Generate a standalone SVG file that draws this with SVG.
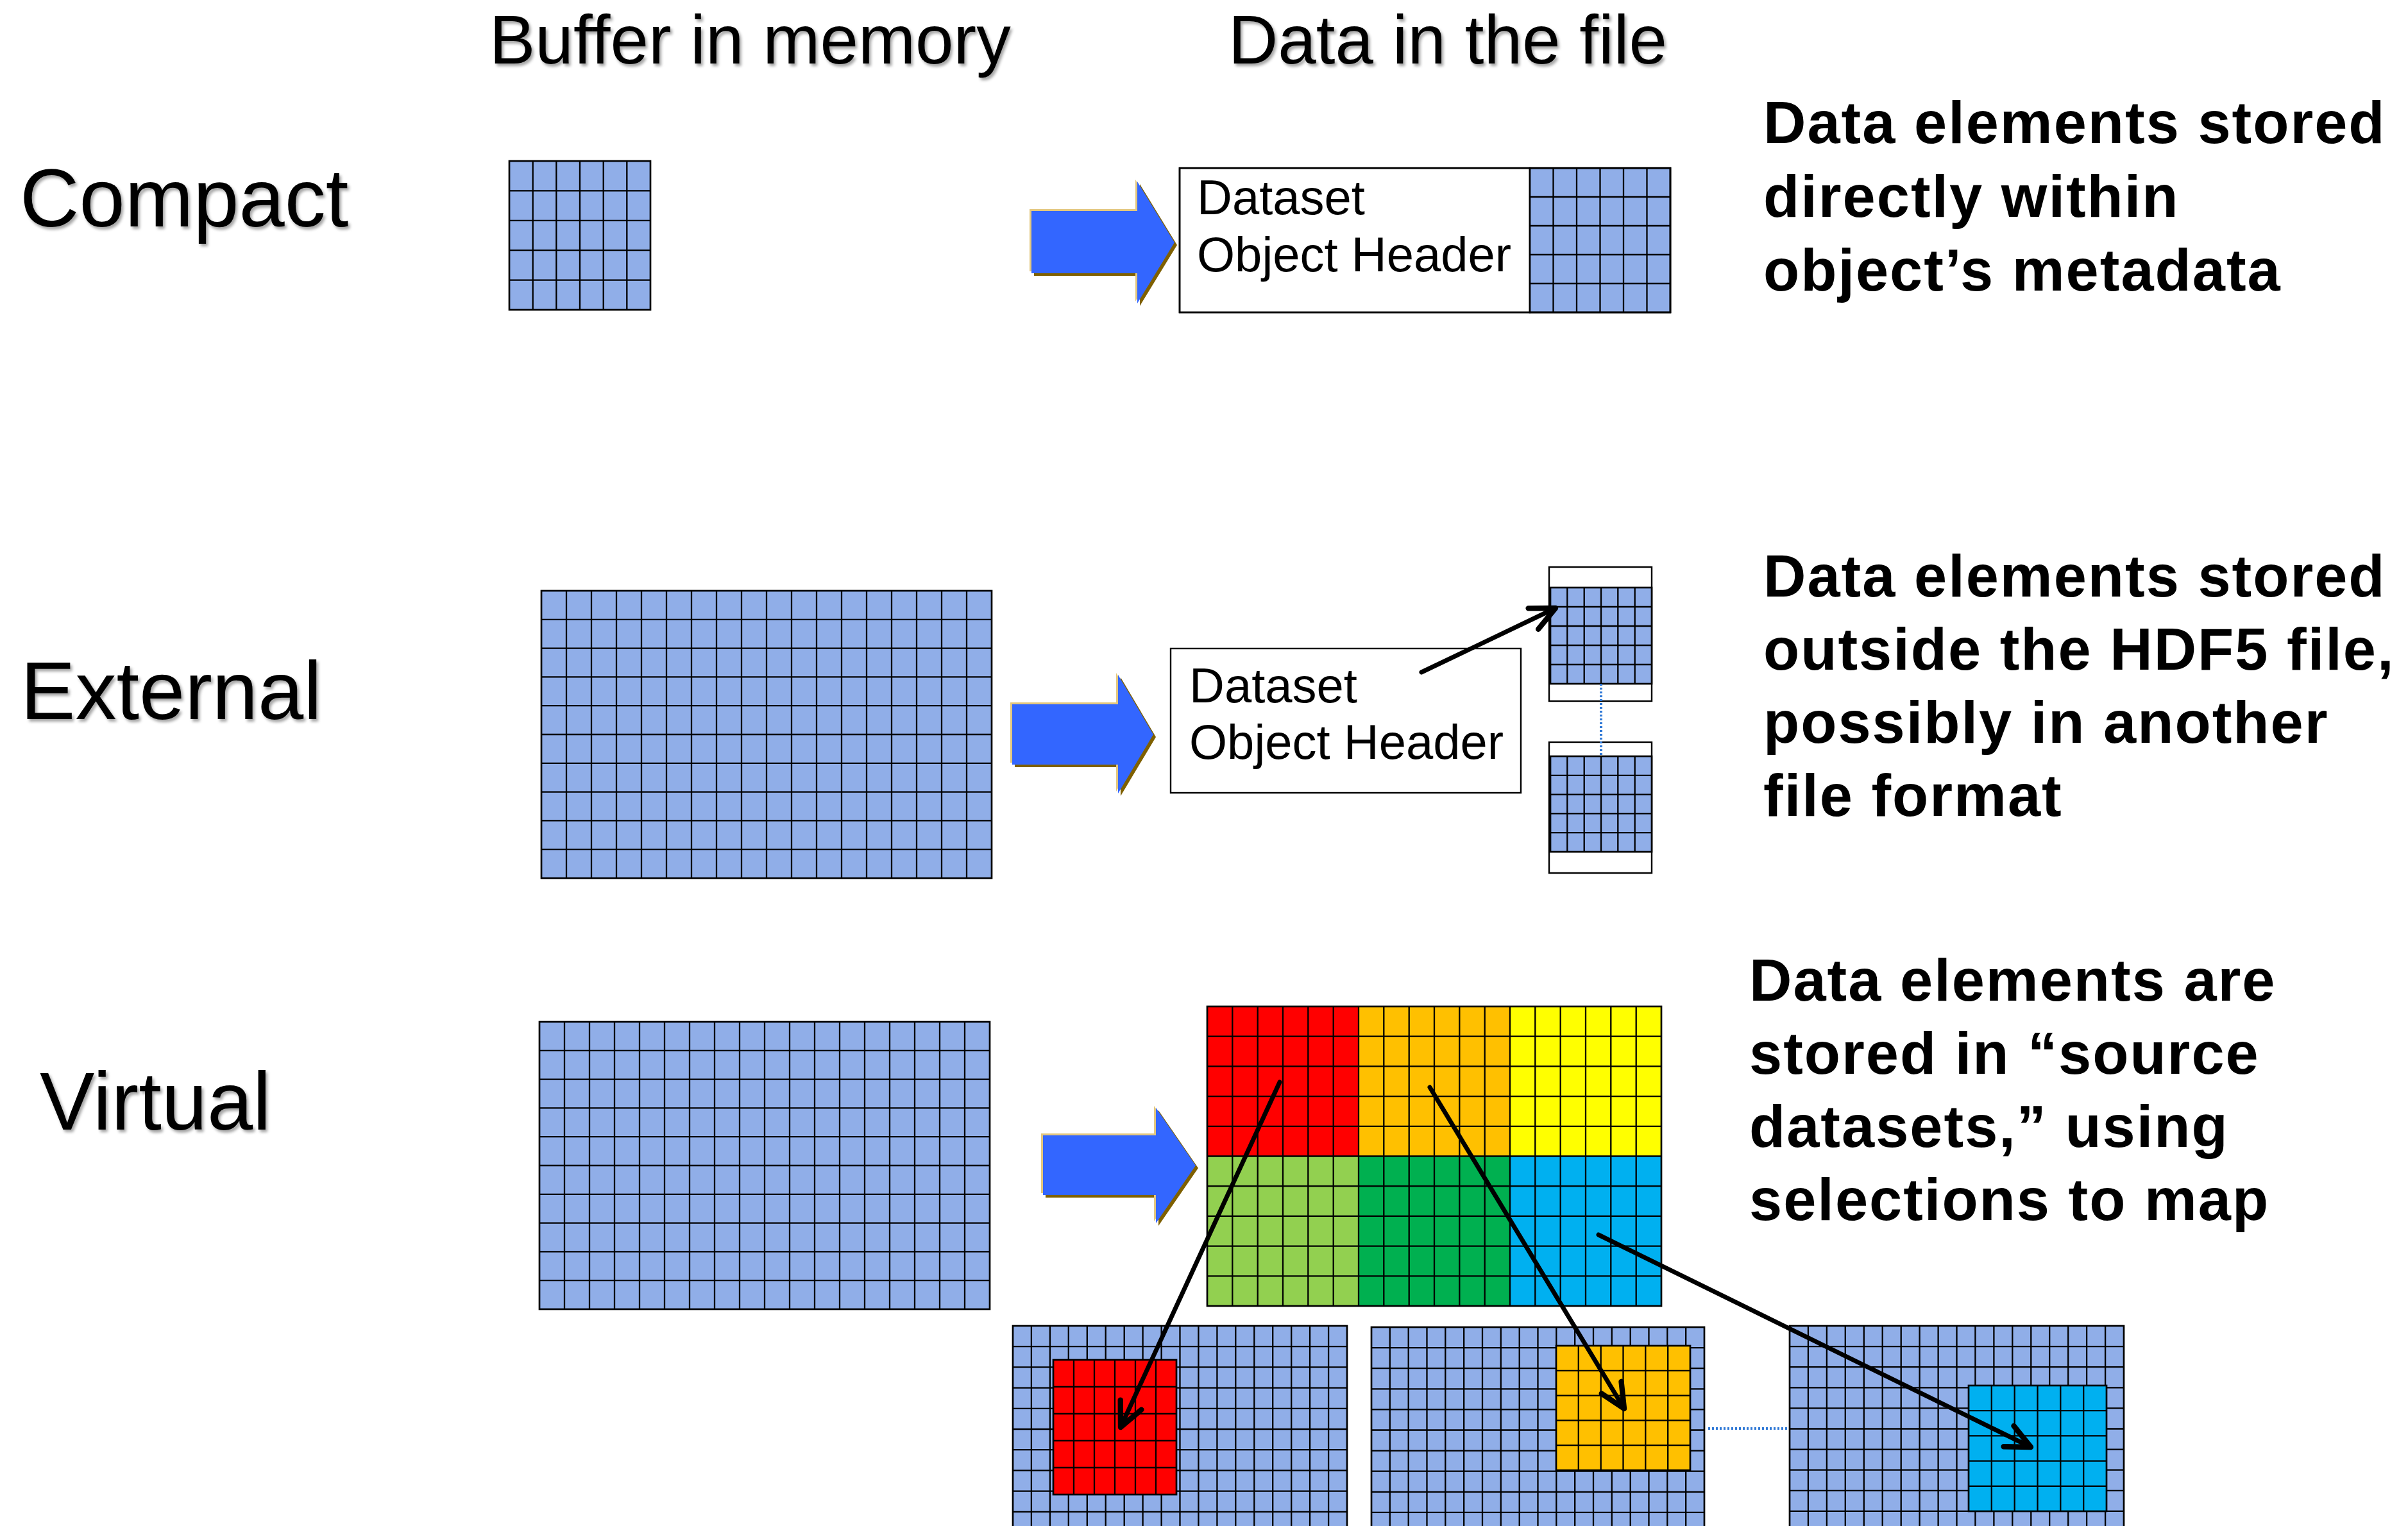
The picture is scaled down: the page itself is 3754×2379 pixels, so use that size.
<svg xmlns="http://www.w3.org/2000/svg" xmlns:xlink="http://www.w3.org/1999/xlink" width="3754" height="2379" viewBox="0 0 3754 2379">
  <style>
    .title { font-family: "Liberation Sans", Arial, sans-serif; font-size: 107px; fill: #000; }
    .rowlabel { font-family: "Liberation Sans", Arial, sans-serif; font-size: 128px; fill: #000; }
    .hdr { font-family: "Liberation Sans", Arial, sans-serif; font-size: 76px; fill: #000; }
    .note { font-family: "Liberation Sans", Arial, sans-serif; font-size: 92px; font-weight: bold; letter-spacing: 2px; fill: #000; }
    .cell { fill: #90AEE8; }
    .gl { fill: none; stroke: #000; stroke-width: 2.3; }
    .frame { fill: none; stroke: #000; stroke-width: 2.7; }
    .box { fill: #fff; stroke: #000; stroke-width: 2.4; }
    .red { fill: #FF0000; }
    .orange { fill: #FFC000; }
    .yellow { fill: #FFFF00; }
    .lgreen { fill: #92D050; }
    .green { fill: #00B050; }
    .cyan { fill: #00B0F0; }
    .link { fill: none; stroke: #000; stroke-width: 7; stroke-linecap: round; }
    .dots { fill: none; stroke: #2F78D6; stroke-width: 4; stroke-dasharray: 3 3; }
    .bevel-hi { fill: #E3C77F; }
    .bevel-lo { fill: #7F6000; }
    .blockarrow { fill: #3366FF; }
  </style>
  <defs>
    <filter id="soft-shadow" x="-5%" y="-10%" width="115%" height="130%">
      <feDropShadow dx="3" dy="4" stdDeviation="2" flood-color="#000" flood-opacity="0.35"/>
    </filter>
    <marker id="open-head" markerUnits="userSpaceOnUse" orient="auto" refX="0" refY="0" markerWidth="60" markerHeight="60" viewBox="-40 -25 50 50" overflow="visible">
      <path d="M-32,-15 L0,0 L-32,15" fill="none" stroke="#000" stroke-width="7" stroke-linecap="round" stroke-linejoin="round"/>
    </marker>
    <polygon id="arrow-compact" points="1608,329 1773,329 1773,283 1831,378 1773,473 1773,426 1608,426"/>
    <polygon id="arrow-external" points="1578,1098 1743,1098 1743,1052 1798,1145 1743,1237 1743,1192 1578,1192"/>
    <polygon id="arrow-virtual" points="1626,1770 1802,1770 1802,1727 1864,1817 1802,1907 1802,1863 1626,1863"/>
  </defs>

  <rect x="0" y="0" width="3754" height="2379" fill="#fff"/>

  <!-- column headings -->
  <g id="heading-buffer" filter="url(#soft-shadow)">
    <text class="title" x="763" y="99">Buffer in memory</text>
  </g>
  <g id="heading-file" filter="url(#soft-shadow)">
    <text class="title" x="1915" y="99">Data in the file</text>
  </g>

  <!-- row labels -->
  <g id="label-compact" filter="url(#soft-shadow)">
    <text class="rowlabel" x="31" y="353">Compact</text>
  </g>
  <g id="label-external" filter="url(#soft-shadow)">
    <text class="rowlabel" x="32" y="1121">External</text>
  </g>
  <g id="label-virtual" filter="url(#soft-shadow)">
    <text class="rowlabel" x="62" y="1761">Virtual</text>
  </g>

  <!-- Compact: buffer in memory -->
  <g id="compact-buffer">
    <rect class="cell" x="794" y="251" width="220" height="232"/>
    <path class="gl" d="M830.7 251V483M867.3 251V483M904 251V483M940.7 251V483M977.3 251V483M794 297.4H1014M794 343.8H1014M794 390.2H1014M794 436.6H1014"/>
    <rect class="frame" x="794" y="251" width="220" height="232"/>
  </g>

  <!-- Compact: header with data stored inline -->
  <g id="compact-file">
    <rect class="box" x="1839" y="262" width="546" height="225"/>
    <rect class="cell" x="2385" y="262" width="219" height="225"/>
    <path class="gl" d="M2421.5 262V487M2458 262V487M2494.5 262V487M2531 262V487M2567.5 262V487M2385 307H2604M2385 352H2604M2385 397H2604M2385 442H2604"/>
    <rect class="frame" x="1839" y="262" width="765" height="225"/>
    <rect class="frame" x="2385" y="262" width="219" height="225"/>
    <text class="hdr" x="1866" y="334">Dataset</text>
    <text class="hdr" x="1866" y="423">Object Header</text>
  </g>

  <g id="note-compact">
    <text class="note" x="2749" y="223">Data elements stored</text>
    <text class="note" x="2749" y="338">directly within</text>
    <text class="note" x="2749" y="453">object’s metadata</text>
  </g>

  <!-- External: buffer in memory -->
  <g id="external-buffer">
    <rect class="cell" x="844" y="921" width="702" height="448"/>
    <path class="gl" d="M883 921V1369M922 921V1369M961 921V1369M1000 921V1369M1039 921V1369M1078 921V1369M1117 921V1369M1156 921V1369M1195 921V1369M1234 921V1369M1273 921V1369M1312 921V1369M1351 921V1369M1390 921V1369M1429 921V1369M1468 921V1369M1507 921V1369M844 965.8H1546M844 1010.6H1546M844 1055.4H1546M844 1100.2H1546M844 1145H1546M844 1189.8H1546M844 1234.6H1546M844 1279.4H1546M844 1324.2H1546"/>
    <rect class="frame" x="844" y="921" width="702" height="448"/>
  </g>

  <!-- External: header in the file -->
  <g id="external-header">
    <rect class="box" x="1825" y="1011" width="546" height="225"/>
    <text class="hdr" x="1854" y="1095">Dataset</text>
    <text class="hdr" x="1854" y="1183">Object Header</text>
  </g>

  <!-- External: data segments held elsewhere -->
  <g id="external-segment-1">
    <rect class="box" x="2415" y="884" width="160" height="209"/>
    <rect class="cell" x="2417" y="916" width="158" height="150"/>
    <path class="gl" d="M2443.3 916V1066M2469.7 916V1066M2496 916V1066M2522.3 916V1066M2548.7 916V1066M2417 946H2575M2417 976H2575M2417 1006H2575M2417 1036H2575"/>
    <rect class="frame" x="2417" y="916" width="158" height="150"/>
  </g>
  <g id="external-segment-2">
    <rect class="box" x="2415" y="1157" width="160" height="204"/>
    <rect class="cell" x="2417" y="1179" width="158" height="149"/>
    <path class="gl" d="M2443.3 1179V1328M2469.7 1179V1328M2496 1179V1328M2522.3 1179V1328M2548.7 1179V1328M2417 1208.8H2575M2417 1238.6H2575M2417 1268.4H2575M2417 1298.2H2575"/>
    <rect class="frame" x="2417" y="1179" width="158" height="149"/>
  </g>

  <g id="note-external">
    <text class="note" x="2749" y="930">Data elements stored</text>
    <text class="note" x="2749" y="1044">outside the HDF5 file,</text>
    <text class="note" x="2749" y="1158">possibly in another</text>
    <text class="note" x="2749" y="1272">file format</text>
  </g>

  <!-- Virtual: buffer in memory -->
  <g id="virtual-buffer">
    <rect class="cell" x="841" y="1593" width="702" height="448"/>
    <path class="gl" d="M880 1593V2041M919 1593V2041M958 1593V2041M997 1593V2041M1036 1593V2041M1075 1593V2041M1114 1593V2041M1153 1593V2041M1192 1593V2041M1231 1593V2041M1270 1593V2041M1309 1593V2041M1348 1593V2041M1387 1593V2041M1426 1593V2041M1465 1593V2041M1504 1593V2041M841 1637.8H1543M841 1682.6H1543M841 1727.4H1543M841 1772.2H1543M841 1817H1543M841 1861.8H1543M841 1906.6H1543M841 1951.4H1543M841 1996.2H1543"/>
    <rect class="frame" x="841" y="1593" width="702" height="448"/>
  </g>

  <!-- Virtual: dataset assembled from six mapped regions -->
  <g id="virtual-dataset">
    <rect class="red" x="1882" y="1569" width="236" height="233.5"/>
    <rect class="orange" x="2118" y="1569" width="236" height="233.5"/>
    <rect class="yellow" x="2354" y="1569" width="236" height="233.5"/>
    <rect class="lgreen" x="1882" y="1802.5" width="236" height="233.5"/>
    <rect class="green" x="2118" y="1802.5" width="236" height="233.5"/>
    <rect class="cyan" x="2354" y="1802.5" width="236" height="233.5"/>
    <path class="gl" d="M1921.3 1569V2036M1960.7 1569V2036M2000 1569V2036M2039.3 1569V2036M2078.7 1569V2036M2118 1569V2036M2157.3 1569V2036M2196.7 1569V2036M2236 1569V2036M2275.3 1569V2036M2314.7 1569V2036M2354 1569V2036M2393.3 1569V2036M2432.7 1569V2036M2472 1569V2036M2511.3 1569V2036M2550.7 1569V2036M1882 1615.7H2590M1882 1662.4H2590M1882 1709.1H2590M1882 1755.8H2590M1882 1802.5H2590M1882 1849.2H2590M1882 1895.9H2590M1882 1942.6H2590M1882 1989.3H2590"/>
    <rect class="frame" x="1882" y="1569" width="708" height="467"/>
  </g>

  <!-- Virtual: source datasets with their selections -->
  <g id="source-1">
    <rect class="cell" x="1579" y="2067" width="521" height="340"/>
    <path class="gl" d="M1607.9 2067V2407M1636.9 2067V2407M1665.8 2067V2407M1694.8 2067V2407M1723.7 2067V2407M1752.7 2067V2407M1781.6 2067V2407M1810.6 2067V2407M1839.5 2067V2407M1868.4 2067V2407M1897.4 2067V2407M1926.3 2067V2407M1955.3 2067V2407M1984.2 2067V2407M2013.2 2067V2407M2042.1 2067V2407M2071.1 2067V2407M1579 2099.2H2100M1579 2131.4H2100M1579 2163.6H2100M1579 2195.8H2100M1579 2228H2100M1579 2260.2H2100M1579 2292.4H2100M1579 2324.6H2100M1579 2356.8H2100M1579 2389H2100"/>
    <rect class="frame" x="1579" y="2067" width="521" height="340"/>
    <rect class="red" x="1642" y="2120" width="192" height="210"/>
    <path class="gl" d="M1674 2120V2330M1706 2120V2330M1738 2120V2330M1770 2120V2330M1802 2120V2330M1642 2162H1834M1642 2204H1834M1642 2246H1834M1642 2288H1834"/>
    <rect class="frame" x="1642" y="2120" width="192" height="210"/>
  </g>
  <g id="source-2">
    <rect class="cell" x="2138" y="2069" width="519" height="340"/>
    <path class="gl" d="M2166.8 2069V2409M2195.7 2069V2409M2224.5 2069V2409M2253.3 2069V2409M2282.2 2069V2409M2311 2069V2409M2339.8 2069V2409M2368.7 2069V2409M2397.5 2069V2409M2426.3 2069V2409M2455.2 2069V2409M2484 2069V2409M2512.8 2069V2409M2541.7 2069V2409M2570.5 2069V2409M2599.3 2069V2409M2628.2 2069V2409M2138 2101.1H2657M2138 2133.2H2657M2138 2165.3H2657M2138 2197.4H2657M2138 2229.5H2657M2138 2261.6H2657M2138 2293.7H2657M2138 2325.8H2657M2138 2357.9H2657M2138 2390H2657"/>
    <rect class="frame" x="2138" y="2069" width="519" height="340"/>
    <rect class="orange" x="2426" y="2098" width="209" height="194"/>
    <path class="gl" d="M2460.8 2098V2292M2495.7 2098V2292M2530.5 2098V2292M2565.3 2098V2292M2600.2 2098V2292M2426 2136.8H2635M2426 2175.6H2635M2426 2214.4H2635M2426 2253.2H2635"/>
    <rect class="frame" x="2426" y="2098" width="209" height="194"/>
  </g>
  <g id="source-3">
    <rect class="cell" x="2790" y="2067" width="521" height="340"/>
    <path class="gl" d="M2818.9 2067V2407M2847.9 2067V2407M2876.8 2067V2407M2905.8 2067V2407M2934.7 2067V2407M2963.7 2067V2407M2992.6 2067V2407M3021.6 2067V2407M3050.5 2067V2407M3079.4 2067V2407M3108.4 2067V2407M3137.3 2067V2407M3166.3 2067V2407M3195.2 2067V2407M3224.2 2067V2407M3253.1 2067V2407M3282.1 2067V2407M2790 2099.1H3311M2790 2131.2H3311M2790 2163.3H3311M2790 2195.4H3311M2790 2227.5H3311M2790 2259.6H3311M2790 2291.7H3311M2790 2323.8H3311M2790 2355.9H3311M2790 2388H3311"/>
    <rect class="frame" x="2790" y="2067" width="521" height="340"/>
    <rect class="cyan" x="3069" y="2160" width="215" height="196"/>
    <path class="gl" d="M3104.8 2160V2356M3140.7 2160V2356M3176.5 2160V2356M3212.3 2160V2356M3248.2 2160V2356M3069 2199.2H3284M3069 2238.4H3284M3069 2277.6H3284M3069 2316.8H3284"/>
    <rect class="frame" x="3069" y="2160" width="215" height="196"/>
  </g>

  <g id="note-virtual">
    <text class="note" x="2727" y="1560">Data elements are</text>
    <text class="note" x="2727" y="1674">stored in “source</text>
    <text class="note" x="2727" y="1788">datasets,” using</text>
    <text class="note" x="2727" y="1902">selections to map</text>
  </g>

  <!-- connectors: block arrows, pointers and continuation dots -->
  <g id="connectors">
    <g id="flow-compact">
      <use xlink:href="#arrow-compact" class="bevel-lo" transform="translate(4,4)"/>
      <use xlink:href="#arrow-compact" class="bevel-hi" transform="translate(-3,-3)"/>
      <use xlink:href="#arrow-compact" class="blockarrow"/>
    </g>
    <g id="flow-external">
      <use xlink:href="#arrow-external" class="bevel-lo" transform="translate(4,4)"/>
      <use xlink:href="#arrow-external" class="bevel-hi" transform="translate(-3,-3)"/>
      <use xlink:href="#arrow-external" class="blockarrow"/>
    </g>
    <g id="flow-virtual">
      <use xlink:href="#arrow-virtual" class="bevel-lo" transform="translate(4,4)"/>
      <use xlink:href="#arrow-virtual" class="bevel-hi" transform="translate(-3,-3)"/>
      <use xlink:href="#arrow-virtual" class="blockarrow"/>
    </g>
    <path class="dots" d="M2496 1066V1179"/>
    <path class="dots" d="M2663 2227H2789"/>
    <path class="link" d="M2216 1048L2425 948" marker-end="url(#open-head)"/>
    <path class="link" d="M1995 1687L1747 2225" marker-end="url(#open-head)"/>
    <path class="link" d="M2229 1695L2532 2196" marker-end="url(#open-head)"/>
    <path class="link" d="M2492 1925L3166 2256" marker-end="url(#open-head)"/>
  </g>
</svg>
